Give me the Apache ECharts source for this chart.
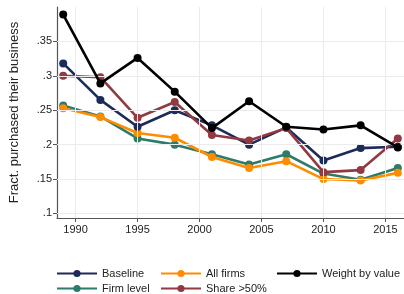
<!DOCTYPE html>
<html><head><meta charset="utf-8">
<script src="https://cdn.jsdelivr.net/npm/echarts@6/dist/echarts.min.js"></script>
<style>html,body{margin:0;padding:0;background:#fff}#c{width:404px;height:294px}</style>
</head><body><div id="c"></div>
<script>
var years = [1989, 1992, 1995, 1998, 2001, 2004, 2007, 2010, 2013, 2016];
var baseline = [0.318, 0.265, 0.226, 0.250, 0.228, 0.200, 0.225, 0.177, 0.195, 0.197];
var allFirms = [0.253, 0.240, 0.217, 0.210, 0.182, 0.166, 0.176, 0.150, 0.148, 0.159];
var weightByValue = [0.389, 0.289, 0.326, 0.277, 0.224, 0.263, 0.226, 0.222, 0.228, 0.196];
var firmLevel = [0.257, 0.241, 0.209, 0.200, 0.186, 0.171, 0.186, 0.158, 0.149, 0.166];
var share50 = [0.300, 0.298, 0.239, 0.262, 0.214, 0.206, 0.224, 0.160, 0.163, 0.209];
var yTicks = [0.1, 0.15, 0.2, 0.25, 0.3, 0.35];
var xTicks = [1990, 1995, 2000, 2005, 2010, 2015];

var names = ['Baseline', 'All firms', 'Weight by value', 'Firm level', 'Share >50%'];
var colors = ['#1c2b5a', '#ff8c00', '#000000', '#2e7b69', '#913a41'];
var dataSets = [baseline, allFirms, weightByValue, firmLevel, share50];

function pairs(v){ return years.map(function(y,i){ return [y, v[i]]; }); }

var series = names.map(function(n, k){
  return {
    name: n, type: 'line', data: pairs(dataSets[k]),
    symbol: 'circle', symbolSize: 8,
    lineStyle: {color: colors[k], width: 2.6},
    itemStyle: {color: colors[k]},
    z: [3,2,5,1,4][k]
  };
});

// light grid lines at the tick values
var gridLines = xTicks.map(function(x){ return {xAxis: x}; })
  .concat(yTicks.map(function(y){ return {yAxis: y}; }));
series.unshift({
  type: 'line', data: [], silent: true, z: 0,
  markLine: {
    silent: true, symbol: ['none','none'], label: {show: false}, animation: false,
    lineStyle: {color: '#ebebeb', width: 1, type: 'solid'},
    emphasis: {disabled: true},
    data: gridLines
  }
});

var legPos = [[56,268],[160,268],[276,268],[56,283],[160,283]];
var legends = names.map(function(n,k){
  return {
    data: [n], left: legPos[k][0], top: legPos[k][1],
    itemWidth: 40, itemHeight: 9, itemGap: 6,
    textStyle: {fontFamily: 'Liberation Sans', fontSize: 11, color: '#222'},
    selectedMode: false, padding: 0
  };
});

var fmtY = function(v){
  for (var i=0;i<yTicks.length;i++){ if (Math.abs(v-yTicks[i])<1e-6) return String(yTicks[i]).replace(/^0/, ''); }
  return '';
};
var fmtX = function(v){ return String(Math.round(v)); };

var chart = echarts.init(document.getElementById('c'), null, {renderer: 'canvas'});
chart.setOption({
  animation: false,
  grid: {left: 50, right: 0, top: 7, bottom: 76, containLabel: false},
  legend: legends,
  xAxis: {
    type: 'value', min: 1988.5, max: 2016.5,
    axisLine: {lineStyle: {color: '#555', width: 1.2}},
    axisTick: {show: true, length: 4, lineStyle: {color: '#555'}, customValues: xTicks},
    axisLabel: {customValues: xTicks, formatter: fmtX, color: '#222', fontFamily: 'Liberation Sans', fontSize: 11, margin: 6},
    splitLine: {show: false}
  },
  yAxis: {
    type: 'value', min: 0.0934, max: 0.40,
    name: 'Fract. purchased their business', nameLocation: 'middle', nameGap: 36,
    nameTextStyle: {fontFamily: 'Liberation Sans', fontSize: 13, color: '#222'},
    axisLine: {show: true, lineStyle: {color: '#555', width: 1.2}},
    axisTick: {show: true, length: 4, lineStyle: {color: '#555'}, customValues: yTicks},
    axisLabel: {customValues: yTicks, formatter: fmtY, color: '#222', fontFamily: 'Liberation Sans', fontSize: 11, margin: 5},
    splitLine: {show: false}
  },
  series: series
});
</script></body></html>
